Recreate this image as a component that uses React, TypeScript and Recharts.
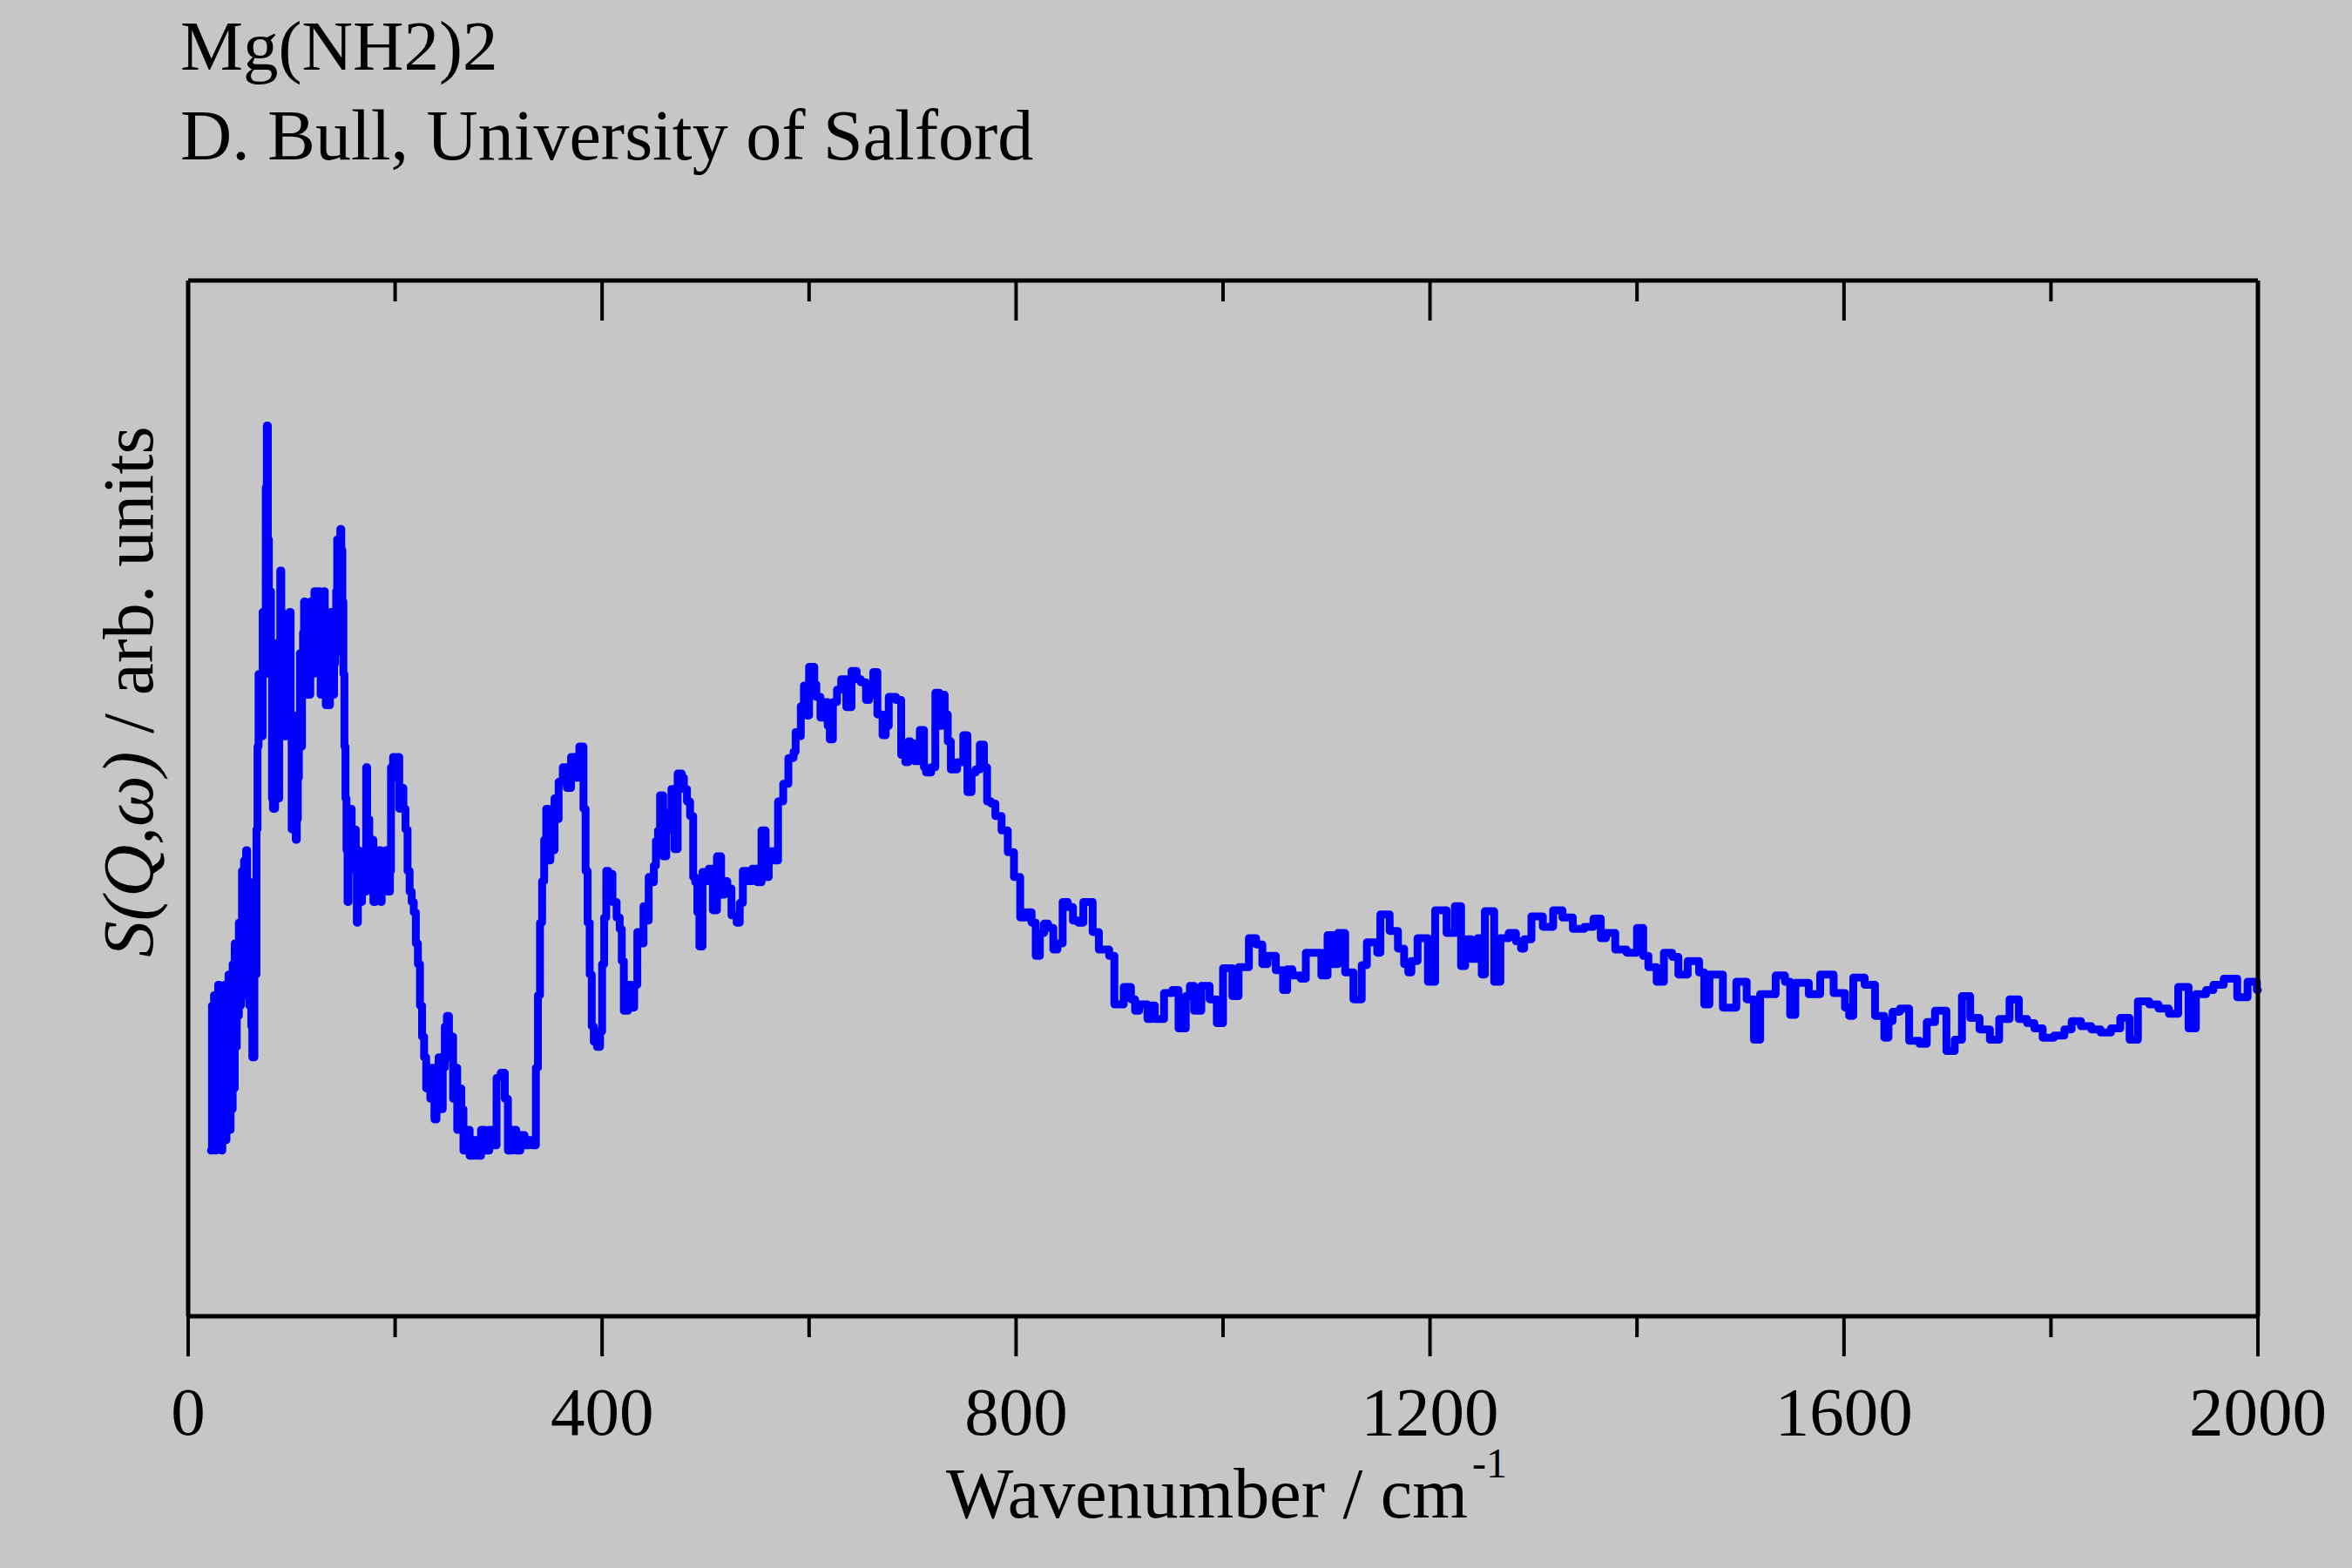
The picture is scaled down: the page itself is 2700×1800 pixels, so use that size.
import React from 'react';
import { LineChart, Line, XAxis, YAxis } from 'recharts';

// ---- data ----
const wavenumbers = [
  22, 23, 24, 25, 26, 27, 28, 29, 30, 31, 32, 33, 34, 35, 36, 37, 38, 39, 40, 41,
  42, 43, 44, 45, 46, 47, 48, 49, 50, 51, 52, 53, 54, 55, 56, 57, 58, 59, 60, 61,
  62, 64, 66, 67, 68, 70, 72, 74, 75, 76, 77, 78, 79, 80, 81, 82, 84, 85, 86, 87,
  88, 89, 90, 91, 92, 93, 94, 96, 97, 98, 99, 100, 101, 102, 103, 104, 105, 106, 107, 108,
  109, 110, 111, 112, 113, 114, 115, 116, 117, 118, 119, 120, 121, 122, 123, 124, 126, 127, 128, 129,
  130, 131, 132, 133, 134, 135, 136, 137, 138, 139, 140, 141, 142, 143, 144, 145, 146, 147, 148, 149,
  150, 151, 152, 153, 154, 155, 156, 157, 158, 159, 160, 162, 163, 164, 165, 166, 168, 169, 170, 172,
  173, 175, 176, 178, 179, 181, 182, 184, 186, 187, 189, 191, 193, 195, 196, 198, 200, 202, 204, 206,
  208, 210, 212, 214, 216, 218, 220, 222, 224, 226, 228, 230, 232, 234, 236, 238, 240, 242, 244, 246,
  248, 250, 252, 254, 256, 258, 260, 262, 264, 266, 269, 272, 276, 279, 283, 287, 291, 295, 298, 302,
  306, 309, 313, 317, 321, 325, 329, 333, 336, 338, 340, 342, 344, 346, 348, 350, 352, 354, 356, 358,
  362, 366, 370, 374, 378, 382, 384, 386, 388, 390, 392, 395, 398, 400, 402, 404, 406, 410, 414, 417,
  419, 421, 425, 428, 431, 434, 437, 440, 443, 445, 448, 450, 452, 454, 456, 459, 462, 465, 467, 470,
  473, 477, 479, 482, 485, 488, 490, 492, 494, 497, 500, 503, 507, 511, 515, 518, 521, 525, 530, 533,
  536, 540, 545, 550, 554, 558, 561, 566, 570, 575, 580, 585, 587, 590, 592, 595, 598, 600, 605, 607,
  611, 614, 618, 620, 623, 627, 631, 636, 641, 646, 650, 655, 658, 662, 666, 671, 674, 677, 684, 689,
  693, 696, 698, 702, 707, 711, 713, 718, 722, 726, 728, 731, 734, 737, 743, 749, 753, 757, 761, 765,
  769, 772, 776, 780, 786, 792, 798, 804, 810, 815, 819, 823, 827, 831, 836, 840, 845, 850, 855, 860,
  865, 874, 880, 890, 895, 904, 911, 915, 919, 927, 931, 934, 943, 951, 957, 964, 968, 972, 979, 987,
  994, 1000, 1009, 1015, 1025, 1032, 1038, 1043, 1051, 1058, 1062, 1067, 1075, 1080, 1095, 1101, 1106, 1111, 1118, 1126,
  1134, 1139, 1149, 1152, 1161, 1169, 1175, 1179, 1182, 1188, 1198, 1205, 1216, 1224, 1230, 1234, 1240, 1246, 1250, 1253,
  1262, 1268, 1276, 1283, 1288, 1291, 1298, 1309, 1319, 1328, 1338, 1349, 1358, 1365, 1370, 1379, 1390, 1400, 1406, 1411,
  1419, 1426, 1434, 1440, 1449, 1460, 1465, 1470, 1483, 1496, 1506, 1513, 1519, 1534, 1543, 1548, 1553, 1566, 1577, 1590,
  1601, 1605, 1609, 1620, 1630, 1639, 1643, 1647, 1654, 1663, 1673, 1680, 1688, 1699, 1707, 1714, 1722, 1731, 1741, 1750,
  1760, 1769, 1777, 1784, 1792, 1803, 1813, 1820, 1829, 1839, 1848, 1858, 1867, 1876, 1884, 1895, 1904, 1914, 1923, 1933,
  1940, 1950, 1957, 1967, 1980, 1990, 1999, 2000,
];

const intensities = [
  16, 30, 17, 31, 16, 28, 18, 32, 17, 26, 16, 30, 19, 32, 17, 27, 19, 33, 18, 31,
  20, 34, 22, 36, 26, 35, 29, 38, 30, 36, 43, 33, 44, 31, 45, 37, 42, 30, 40, 28,
  25, 33, 47, 55, 62, 56, 68, 62, 80, 86, 75, 66, 70, 64, 50, 49, 58, 65, 52, 50,
  65, 72, 68, 60, 62, 56, 56, 60, 66, 68, 58, 47, 52, 58, 50, 46, 48, 52, 58, 64,
  55, 60, 66, 69, 62, 60, 65, 67, 60, 69, 66, 62, 65, 70, 66, 68, 70, 63, 60, 66,
  68, 70, 65, 59, 62, 64, 59, 66, 68, 62, 60, 63, 64, 70, 75, 73, 72, 76, 74, 69,
  62, 55, 50, 45, 40, 44, 46, 49, 45, 44, 47, 43, 38, 45, 41, 40, 44, 42, 41, 53,
  48, 45, 42, 46, 40, 44, 41, 45, 40, 44, 42, 45, 41, 43, 53, 54, 52, 54, 49, 51,
  49, 47, 43, 41, 40, 39, 36, 34, 30, 27, 25, 22, 24, 21, 24, 19, 22, 25, 20, 24,
  28, 29, 25, 27, 21, 24, 18, 22, 20, 16, 18, 15.5, 17, 15.5, 18, 16, 18, 16.5, 23, 23.5,
  21, 16, 18, 16, 17.5, 16.5, 17, 16.5, 24, 31, 38, 42, 46, 49, 44, 47, 45, 50, 48, 51.6,
  53, 51, 54, 52, 55, 49, 43, 38, 33, 28, 26.5, 26, 27.5, 34, 38.5, 43, 42.7, 40, 38.5, 37.4,
  34.3, 29.5, 32, 29.8, 32, 37.1, 36, 39.6, 38.2, 42.4, 41.9, 43.5, 45.9, 46.9, 50.3, 44.4, 48.6, 47, 50.9, 45.1,
  52.4, 52, 50.9, 49.7, 48.3, 42.4, 41.9, 39, 35.7, 42.9, 42, 43.2, 39.2, 44.4, 40.7, 42, 41.3, 38.7, 38, 39.9,
  43, 42, 43.2, 41.9, 46.9, 42.4, 44.9, 44, 49.7, 51.4, 53.9, 54.5, 56.4, 56, 58.9, 60.9, 58, 62.7, 61, 59.8,
  57.8, 59.3, 57, 55.7, 59.3, 60.5, 61.5, 58.8, 62.3, 61.5, 61.2, 59.5, 60, 62.2, 58.1, 56.1, 57, 59.8, 59.5, 54.2,
  53.5, 55.5, 55.3, 53.6, 56.6, 53, 52.5, 53, 60.2, 57, 60, 58.1, 55.5, 52.8, 53.5, 56.1, 50.6, 52.5, 52.8, 55.2,
  53, 49.7, 49.5, 48.3, 46.9, 44.8, 42.4, 38.5, 39, 38, 34.8, 37, 37.9, 37.5, 35.4, 36, 40, 39.5, 38.2, 38,
  40, 37.1, 35.4, 34.8, 30.1, 31.8, 30.6, 29.5, 30.1, 28.7, 30, 28.7, 31.2, 31.5, 27.8, 30.9, 31.9, 29.5, 31.9, 30.6,
  28.3, 33.6, 30.9, 33.7, 36.5, 35.9, 34, 34.8, 33.4, 31.5, 33.5, 32.9, 32.6, 35.1, 32.9, 36.8, 34, 37, 33.2, 30.6,
  33.9, 36.1, 35.1, 38.8, 37.2, 35.5, 34, 33.2, 34.3, 36.5, 32.3, 39.2, 37, 39.6, 33.8, 36.4, 34.5, 36.5, 33, 39.1,
  32.3, 36.5, 37, 36.2, 35.5, 36.4, 38.6, 37.6, 39.2, 38.5, 37.4, 37.6, 38.4, 36.5, 37, 35.4, 35.1, 37.5, 34.8, 33.7,
  32.3, 35.1, 34.7, 33, 34.3, 33.2, 30.1, 33, 29.8, 32.3, 30.6, 26.7, 31.1, 32.9, 32.3, 29.1, 32.2, 31.1, 33, 31.2,
  29.8, 29, 32.7, 32, 29, 26.9, 28.5, 29.4, 29.7, 26.6, 26.3, 28.4, 29.5, 25.6, 26.7, 30.9, 28.8, 27.7, 26.7, 28.7,
  30.6, 28.7, 28.3, 27.8, 26.9, 27.1, 27.7, 28.5, 28, 27.7, 27.4, 27.8, 28.8, 26.7, 30.4, 30.1, 29.7, 29.2, 31.8, 27.8,
  31.1, 31.5, 32, 32.6, 30.8, 32.3, 31.5, 31.5,
];

const majorTicks = [0, 400, 800, 1200, 1600, 2000];
const allTicks = [0, 200, 400, 600, 800, 1000, 1200, 1400, 1600, 1800, 2000];
const titleLines = ['Mg(NH2)2', 'D. Bull, University of Salford'];
const xLabelMain = 'Wavenumber / cm';
const xLabelSup = '-1';
const yLabelItalic = 'S(Q,\u03c9)';
const yLabelRest = ' / arb. units';

const data = wavenumbers.map((w, i) => ({ w, s: intensities[i] }));

const FONT = '"Liberation Serif", "Times New Roman", serif';
const BG = '#C6C6C6';

function BottomTick(props: any) {
  const { x, y, payload } = props;
  const major = majorTicks.includes(payload.value);
  return (
    <g>
      <line x1={x} x2={x} y1={y} y2={y + (major ? 46 : 24)} stroke="#000" strokeWidth={4} />
      {major && (
        <text x={x} y={y + 136} textAnchor="middle" fontFamily={FONT} fontSize={79} fill="#000">
          {payload.value}
        </text>
      )}
    </g>
  );
}

function TopTick(props: any) {
  const { x, y, payload } = props;
  const major = majorTicks.includes(payload.value);
  return <line x1={x} x2={x} y1={y} y2={y + (major ? 46 : 24)} stroke="#000" strokeWidth={4} />;
}

function XTitle(props: any) {
  const vb = props.viewBox || {};
  const cx = vb.x + vb.width / 2;
  const joinX = cx + 281;
  return (
    <g>
      <text x={joinX} y={vb.y + 231} textAnchor="end" fontFamily={FONT} fontSize={82} fill="#000">
        {xLabelMain}
      </text>
      <text x={joinX + 5} y={vb.y + 185} textAnchor="start" fontFamily={FONT} fontSize={48} fill="#000">
        {xLabelSup}
      </text>
    </g>
  );
}

function YTitle(props: any) {
  const vb = props.viewBox || {};
  const cx = vb.x + vb.width - 41;
  const cy = vb.y + 472;
  return (
    <text
      x={cx}
      y={cy}
      transform={`rotate(-90, ${cx}, ${cy})`}
      textAnchor="middle"
      fontFamily={FONT}
      fontSize={83}
      fill="#000"
    >
      <tspan fontStyle="italic">{yLabelItalic}</tspan>
      <tspan>{yLabelRest}</tspan>
    </text>
  );
}

export default function App() {
  return (
    <div style={{ position: 'absolute', left: 0, top: 0, width: 2700, height: 1800, background: BG }}>
      <svg
        width={2700}
        height={220}
        style={{ position: 'absolute', left: 0, top: 0, pointerEvents: 'none' }}
      >
        <text x={207} y={80} fontFamily={FONT} fontSize={81} fill="#000">{titleLines[0]}</text>
        <text x={207} y={183} fontFamily={FONT} fontSize={82} fill="#000">{titleLines[1]}</text>
      </svg>
      <div style={{ position: 'absolute', left: 0, top: 0 }}>
        <LineChart
          width={2700}
          height={1800}
          data={data}
          margin={{ top: 321, right: 107, bottom: 89, left: 215 }}
        >
          <XAxis
            xAxisId="bottom"
            dataKey="w"
            type="number"
            domain={[0, 2000]}
            ticks={allTicks}
            interval={0}
            orientation="bottom"
            height={200}
            tickSize={0}
            tickMargin={0}
            tickLine={false}
            tick={<BottomTick />}
            axisLine={{ stroke: '#000', strokeWidth: 5 }}
            label={{ content: <XTitle /> }}
          />
          <XAxis
            xAxisId="top"
            dataKey="w"
            type="number"
            domain={[0, 2000]}
            ticks={allTicks}
            interval={0}
            orientation="top"
            height={1}
            tickSize={0}
            tickMargin={0}
            tickLine={false}
            tick={<TopTick />}
            axisLine={{ stroke: '#000', strokeWidth: 5 }}
          />
          <YAxis
            yAxisId="left"
            type="number"
            domain={[0, 100]}
            width={1}
            tick={false}
            tickLine={false}
            axisLine={{ stroke: '#000', strokeWidth: 5 }}
            label={{ content: <YTitle /> }}
          />
          <YAxis
            yAxisId="right"
            orientation="right"
            type="number"
            domain={[0, 100]}
            width={1}
            tick={false}
            tickLine={false}
            axisLine={{ stroke: '#000', strokeWidth: 5 }}
          />
          <Line
            xAxisId="bottom"
            yAxisId="left"
            dataKey="s"
            type="stepAfter"
            stroke="#0000FF"
            strokeWidth={9}
            strokeLinejoin="round"
            strokeLinecap="round"
            dot={false}
            activeDot={false}
            isAnimationActive={false}
          />
        </LineChart>
      </div>
    </div>
  );
}
